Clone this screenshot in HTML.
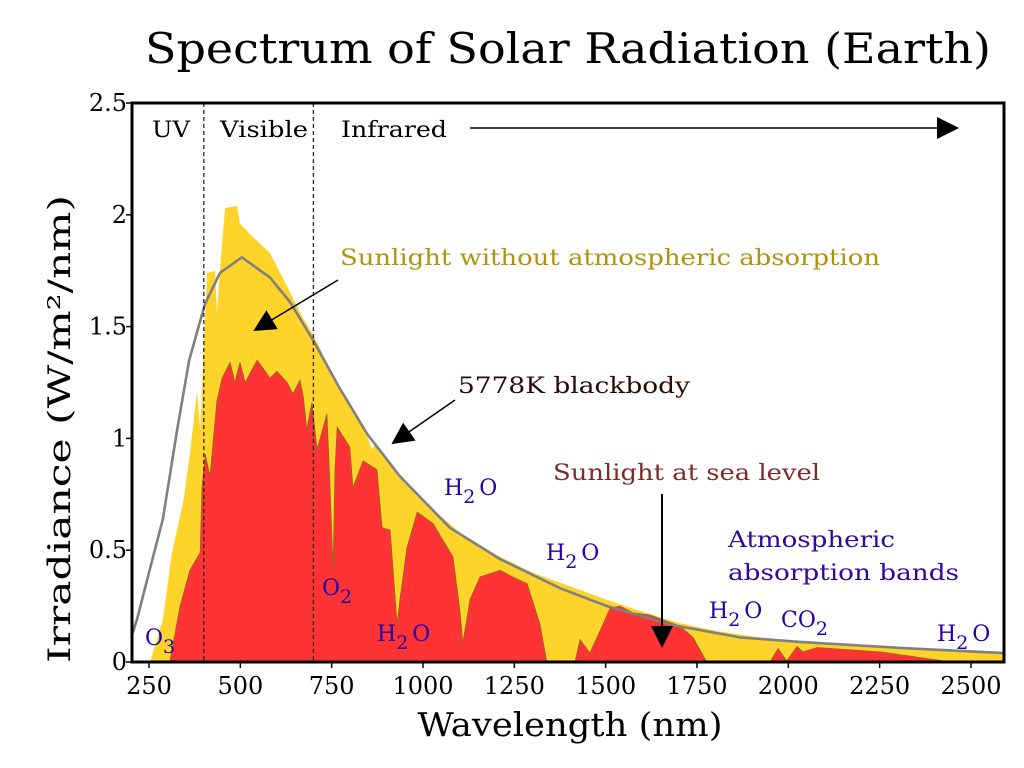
<!DOCTYPE html>
<html><head><meta charset="utf-8"><style>
html,body{margin:0;padding:0;background:#fff;}
svg{display:block;font-family:"DejaVu Serif","Liberation Serif",serif;}
</style></head><body>
<svg id="chart" width="1024" height="768" viewBox="0 0 1024 768">
<defs><clipPath id="plotclip"><rect x="132" y="103" width="872" height="559"/></clipPath>
<marker id="ah" markerWidth="10" markerHeight="10" refX="9" refY="5" orient="auto" markerUnits="userSpaceOnUse" viewBox="0 0 10 10"><path d="M0,0 L10,5 L0,10 z" fill="#000"/></marker>
<marker id="ahb" markerWidth="22" markerHeight="22" refX="20" refY="11" orient="auto" markerUnits="userSpaceOnUse" viewBox="0 0 22 22"><path d="M0,0 L22,11 L0,22 z" fill="#000"/></marker>
</defs>
<text x="568" y="63" font-size="42" text-anchor="middle" textLength="846" lengthAdjust="spacingAndGlyphs">Spectrum of Solar Radiation (Earth)</text>
<g id="plot" clip-path="url(#plotclip)"></g>
<g id="overlay"></g>
<rect x="132" y="103" width="872" height="559" fill="none" stroke="#000" stroke-width="3"/>
<g id="axes"></g>
<text transform="translate(70,429) rotate(-90)" font-size="31" text-anchor="middle" textLength="468" lengthAdjust="spacingAndGlyphs">Irradiance (W/m²/nm)</text>
<text x="570" y="736" font-size="33" text-anchor="middle" textLength="305" lengthAdjust="spacingAndGlyphs">Wavelength (nm)</text>
</svg>
<script>
// extraterrestrial (no atmospheric absorption) spectrum
const etrWavelengths=[225,253,288,313,343,362,381,390,409,431,436,444,458,491,499,535,581,628,671,704,760,800,850,860,870,950,1000,1100,1200,1300,1400,1500,1600,1700,1800,1900,2000,2100,2200,2300,2400,2500,2600];
const etrValues=[0,0,0.19,0.49,0.71,0.93,1.21,1.04,1.74,1.75,1.56,1.75,2.03,2.04,1.96,1.90,1.83,1.68,1.54,1.45,1.26,1.15,1.0,0.95,0.98,0.80,0.72,0.58,0.48,0.40,0.34,0.28,0.225,0.175,0.14,0.115,0.095,0.082,0.07,0.06,0.052,0.046,0.04];
// sea level spectrum
const seaWavelengths=[307,335,362,390,395,404,417,431,436,450,472,485,499,513,546,581,600,628,644,663,672,682,696,710,737,745,754,759,765,800,808,836,874,888,910,929,937,956,984,1027,1082,1101,1109,1129,1156,1211,1246,1285,1320,1339,1416,1430,1457,1493,1512,1539,1575,1621,1704,1739,1777,1950,1972,1996,2024,2040,2079,2251,2424,2470];
const seaValues=[0,0.25,0.41,0.49,0.78,0.93,0.83,1.08,1.17,1.27,1.34,1.25,1.34,1.25,1.35,1.27,1.30,1.25,1.20,1.26,1.19,1.04,1.16,0.95,1.11,0.81,0.41,0.86,1.05,0.96,0.78,0.90,0.86,0.60,0.59,0.17,0.28,0.51,0.67,0.62,0.47,0.23,0.085,0.28,0.38,0.41,0.38,0.35,0.17,0,0,0.10,0.04,0.17,0.24,0.25,0.22,0.21,0.16,0.11,0,0,0.06,0.005,0.07,0.045,0.065,0.045,0.005,0];
// 5778K blackbody
const bbWavelengths=[203,217,250,288,327,360,403,444,504,581,636,699,770,847,937,1074,1211,1375,1504,1684,1868,2032,2306,2590];
const bbValues=[0.12,0.19,0.40,0.64,1.04,1.35,1.60,1.74,1.81,1.72,1.61,1.44,1.23,1.02,0.83,0.60,0.46,0.33,0.25,0.165,0.11,0.09,0.063,0.04];
const xTicks=[250,500,750,1000,1250,1500,1750,2000,2250,2500];
const yTicks=[0,0.5,1,1.5,2,2.5];
const yTickLabels=["0","0.5","1","1.5","2","2.5"];

const NS="http://www.w3.org/2000/svg";
function xs(l){return 423+(l-1000)*0.3653;}
function ys(v){return 662-v*223.6;}
function mk(t,a,p){const e=document.createElementNS(NS,t);for(const k in a)e.setAttribute(k,a[k]);(p||document.getElementById('chart')).appendChild(e);return e;}
const plot=document.getElementById('plot'),axes=document.getElementById('axes'),ov=document.getElementById('overlay');
function areaPath(ws,vs){let d='M'+xs(ws[0]).toFixed(1)+','+ys(0);ws.forEach((w,i)=>{d+=' L'+xs(w).toFixed(1)+','+ys(vs[i]).toFixed(1);});d+=' L'+xs(ws[ws.length-1]).toFixed(1)+','+ys(0)+' Z';return d;}
let e=mk('path',{d:areaPath(etrWavelengths,etrValues),fill:'#ffd42a',stroke:'none'},plot);


e=mk('path',{d:areaPath(seaWavelengths,seaValues),fill:'#ff3333',stroke:'#8a6a20','stroke-width':'0.8'},plot);


let bd='';bbWavelengths.forEach((w,i)=>{bd+=(i?' L':'M')+xs(w).toFixed(1)+','+ys(bbValues[i]).toFixed(1);});
e=mk('path',{d:bd,fill:'none',stroke:'#808080','stroke-width':'2.6','stroke-linejoin':'round'},plot);


[400,700].forEach(w=>{const l=mk('line',{x1:xs(w),x2:xs(w),y1:103,y2:662,stroke:'#222','stroke-width':'1.3','stroke-dasharray':'4,3'},ov);

});
xTicks.forEach(t=>{const x=xs(t);mk('line',{x1:x,x2:x,y1:662,y2:668,stroke:'#000','stroke-width':'1.5'},axes);
const tx=mk('text',{x:x,y:694,'font-size':'24','text-anchor':'middle'},axes);tx.textContent=t;

});
yTicks.forEach((t,i)=>{const y=ys(t);mk('line',{x1:126,x2:132,y1:y,y2:y,stroke:'#000','stroke-width':'1.5'},axes);
const tx=mk('text',{x:127,y:y+8,'font-size':'24','text-anchor':'end'},axes);tx.textContent=yTickLabels[i];

});
function txt(s,x,y,size,fill,len,name,extra){const t=mk('text',Object.assign({x:x,y:y,'font-size':size,fill:fill},extra||{}),ov);if(len){t.setAttribute('textLength',len);t.setAttribute('lengthAdjust','spacingAndGlyphs');}t.textContent=s;

return t;}
txt('UV',152,137,22,'#000',38,'uv-label');
txt('Visible',220,137,22,'#000',88,'visible-label');
txt('Infrared',341,137,22,'#000',106,'infrared-label');
let a=mk('line',{x1:470,y1:128,x2:957,y2:128,stroke:'#000','stroke-width':'1.5','marker-end':'url(#ahb)'},ov);


txt('Sunlight without atmospheric absorption',340,265,22,'#b0930c',540,'etr-annotation');
a=mk('line',{x1:338,y1:280,x2:255,y2:330,stroke:'#000','stroke-width':'1.5','marker-end':'url(#ahb)'},ov);


txt('5778K blackbody',458,393,22,'#2b0808',232,'blackbody-annotation');
a=mk('line',{x1:455,y1:400,x2:393,y2:443,stroke:'#000','stroke-width':'1.5','marker-end':'url(#ahb)'},ov);


txt('Sunlight at sea level',553,480,22,'#7a2b2b',267,'sea-level-annotation');
a=mk('line',{x1:662,y1:494,x2:662,y2:646,stroke:'#000','stroke-width':'2','marker-end':'url(#ahb)'},ov);


txt('Atmospheric',728,547,22,'#2a0aa0',167,'absorption-bands-label-1');
txt('absorption bands',728,580,22,'#2a0aa0',231,'absorption-bands-label-2');
function mol(a,sub,b,x,y,name){const t=mk('text',{x:x,y:y,'font-size':22,fill:'#2200aa'},ov);


const s1=mk('tspan',{},t);s1.textContent=a;const s2=mk('tspan',{dy:'8','font-size':'19'},t);s2.textContent=sub;
if(b){const s3=mk('tspan',{dy:'-8',dx:'4'},t);s3.textContent=b;}}
mol('O','3','',145,645,'o3-label');
mol('O','2','',322,595,'o2-label');
mol('H','2','O',377,641,'h2o-label-1');
mol('H','2','O',444,495,'h2o-label-2');
mol('H','2','O',546,560,'h2o-label-3');
mol('H','2','O',709,618,'h2o-label-4');
mol('CO','2','',781,627,'co2-label');
mol('H','2','O',937,641,'h2o-label-5');
</script>
</body></html>
